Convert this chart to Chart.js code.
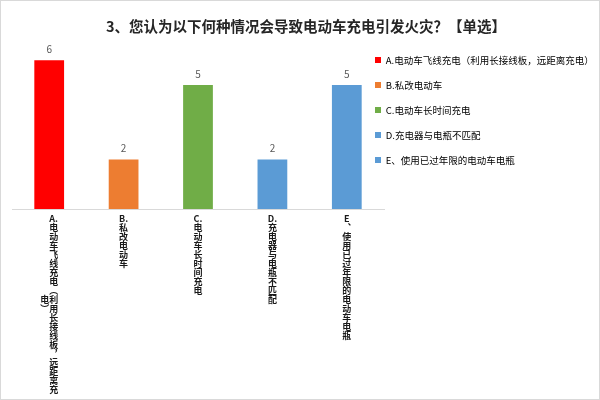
<!DOCTYPE html>
<html><head><meta charset="utf-8">
<script src="https://cdn.jsdelivr.net/npm/chart.js@4.4.1/dist/chart.umd.min.js"></script>
<style>html,body{margin:0;padding:0;background:#fff}#wrap{width:600px;height:400px;position:relative}</style>
</head><body><div id="wrap"><canvas id="c"></canvas></div>
<script>
const titleText = '3、您认为以下何种情况会导致电动车充电引发火灾？【单选】';
const categories = ['A.电动车飞线充电（利用长接线板，远距离充电）', 'B.私改电动车', 'C.电动车长时间充电', 'D.充电器与电瓶不匹配', 'E、使用已过年限的电动车电瓶'];
const values = [6, 2, 5, 2, 5];
const barColors = ['#FF0000', '#ED7D31', '#70AD47', '#5B9BD5', '#5B9BD5'];

const verticalForms = {'（': '︵', '）': '︶', '，': '︐', '、': '︑'};
function toUnits(s) {
  const u = [];
  for (let i = 0; i < s.length; i++) {
    const ch = s[i];
    if (/[A-Za-z]/.test(ch) && s[i + 1] === '.') { u.push(ch + '.'); i++; }
    else u.push(verticalForms[ch] || ch);
  }
  return u;
}
function verticalLabel(s, maxRows) {
  const u = toUnits(s);
  const cols = [];
  for (let i = 0; i < u.length; i += maxRows) cols.push(u.slice(i, i + maxRows));
  if (cols.length === 1) return cols[0];
  const rows = cols[0].length;
  const offsets = cols.map(c => Math.floor((rows - c.length) / 2));
  const lines = [];
  for (let r = 0; r < rows; r++) {
    let line = '';
    for (let c = cols.length - 1; c >= 0; c--) {
      const k = r - offsets[c];
      line += (k >= 0 && k < cols[c].length) ? cols[c][k] : '\u3000';
    }
    lines.push(line);
  }
  return lines;
}

Chart.defaults.font.family = "'Noto Sans CJK SC','Noto Sans',sans-serif";

const framePlugin = {
  id: 'frame',
  beforeDraw(chart) {
    const ctx = chart.ctx;
    ctx.save();
    ctx.fillStyle = '#ffffff';
    ctx.fillRect(0, 0, chart.width, chart.height);
    ctx.strokeStyle = '#d9d9d9';
    ctx.lineWidth = 1;
    ctx.strokeRect(0.5, 0.5, chart.width - 1, chart.height - 1);
    ctx.restore();
  }
};
const legendShift = {
  id: 'legendShift',
  afterLayout(chart) {
    const lg = chart.legend;
    if (!lg) return;
    lg.left = 359.5; lg.right = chart.width;
    lg.top = 39.75; lg.bottom = chart.height;
  }
};
const valueLabels = {
  id: 'valueLabels',
  afterDatasetsDraw(chart) {
    const ctx = chart.ctx;
    const meta = chart.getDatasetMeta(0);
    ctx.save();
    ctx.fillStyle = '#595959';
    ctx.font = "10px 'Noto Sans CJK SC','Noto Sans',sans-serif";
    ctx.textAlign = 'center';
    ctx.textBaseline = 'middle';
    meta.data.forEach((bar, i) => {
      ctx.fillText(String(chart.data.datasets[0].data[i]), bar.x, bar.y - 11);
    });
    ctx.restore();
  }
};

new Chart(document.getElementById('c'), {
  type: 'bar',
  data: {
    labels: categories.map(s => verticalLabel(s, 20)),
    datasets: [{
      data: values,
      backgroundColor: barColors,
      borderWidth: 0,
      barPercentage: 0.8,
      categoryPercentage: 0.5
    }]
  },
  options: {
    responsive: true,
    maintainAspectRatio: false,
    animation: false,
    layout: {padding: {left: 12, right: 0, top: 0, bottom: 0}},
    scales: {
      x: {
        grid: {display: false, drawTicks: false},
        border: {display: true, color: '#d9d9d9', width: 1},
        ticks: {autoSkip: false, maxRotation: 0, minRotation: 0, padding: 5, color: '#1a1a1a',
          font: {size: 9, weight: 'bold', lineHeight: 1}},
        afterFit(s) { s.height = 191; }
      },
      y: {display: false, min: 0, max: 7}
    },
    plugins: {
      title: {display: true, text: titleText, color: '#262626',
        font: {size: 14.5, weight: 'bold', lineHeight: 1.2}, padding: {top: 18, bottom: 0}},
      legend: {
        position: 'right', align: 'start', maxWidth: 216, onClick: null,
        labels: {
          boxWidth: 6, boxHeight: 6, padding: 15.5, color: '#595959', font: {size: 9.5},
          generateLabels() {
            return categories.map((t, i) => ({text: t, fillStyle: barColors[i], strokeStyle: barColors[i],
              lineWidth: 0, hidden: false, index: i, datasetIndex: 0}));
          }
        }
      },
      tooltip: {enabled: false}
    }
  },
  plugins: [framePlugin, legendShift, valueLabels]
});
</script>
</body></html>
